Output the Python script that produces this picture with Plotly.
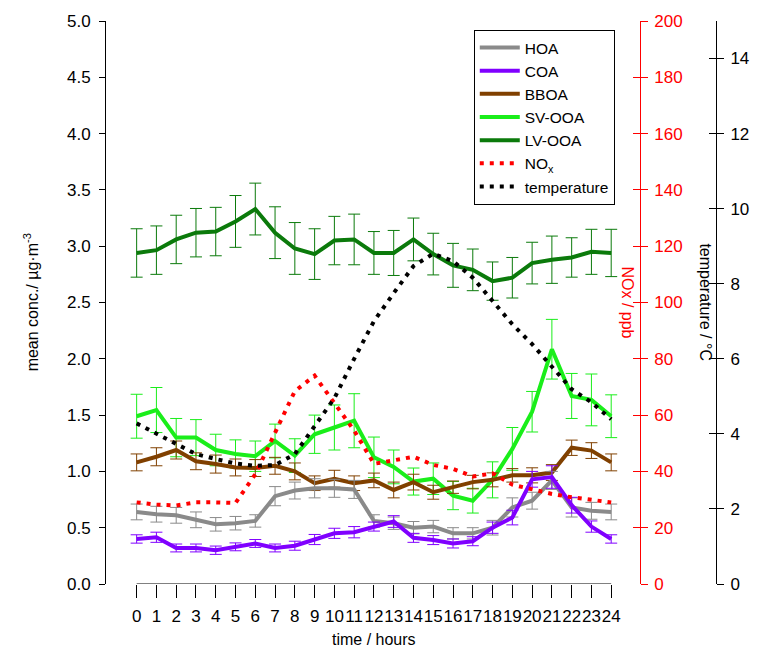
import plotly.graph_objects as go

hours = list(range(25))
x_ticklabels = [str(h) for h in hours]

HOA = [0.64, 0.62, 0.61, 0.57, 0.53, 0.54, 0.56, 0.78, 0.83, 0.85, 0.85, 0.84, 0.56,
       0.54, 0.50, 0.51, 0.45, 0.45, 0.50, 0.68, 0.74, 0.92, 0.68, 0.65, 0.64]
HOA_err = [0.07, 0.07, 0.07, 0.07, 0.06, 0.06, 0.055, 0.085, 0.075, 0.085, 0.08, 0.08, 0.055,
           0.055, 0.055, 0.055, 0.05, 0.05, 0.065, 0.085, 0.075, 0.08, 0.085, 0.075, 0.07]

COA = [0.40, 0.415, 0.32, 0.32, 0.30, 0.33, 0.36, 0.32, 0.34, 0.395, 0.45, 0.46, 0.51,
       0.555, 0.41, 0.39, 0.36, 0.38, 0.50, 0.59, 0.93, 0.95, 0.70, 0.51, 0.40]
COA_err = [0.037, 0.045, 0.035, 0.035, 0.037, 0.035, 0.035, 0.035, 0.04, 0.045, 0.045, 0.05, 0.04,
           0.052, 0.04, 0.04, 0.04, 0.04, 0.05, 0.065, 0.07, 0.1, 0.07, 0.05, 0.037]

BBOA = [1.08, 1.13, 1.19, 1.09, 1.065, 1.035, 1.03, 1.05, 1.00, 0.895, 0.935, 0.895, 0.92,
        0.835, 0.905, 0.815, 0.86, 0.905, 0.925, 0.965, 0.965, 0.99, 1.21, 1.185, 1.08]
BBOA_err = [0.075, 0.08, 0.08, 0.075, 0.08, 0.075, 0.075, 0.075, 0.075, 0.065, 0.075, 0.065, 0.065,
            0.07, 0.07, 0.062, 0.055, 0.06, 0.062, 0.06, 0.067, 0.07, 0.068, 0.07, 0.075]

SV_OOA = [1.49, 1.545, 1.30, 1.30, 1.19, 1.155, 1.135, 1.27, 1.14, 1.33, 1.39, 1.45, 1.125,
          1.04, 0.91, 0.935, 0.785, 0.74, 0.925, 1.20, 1.53, 2.085, 1.67, 1.635, 1.49]
SV_OOA_err = [0.195, 0.2, 0.17, 0.16, 0.14, 0.125, 0.135, 0.15, 0.15, 0.17, 0.2, 0.24, 0.18,
              0.15, 0.12, 0.14, 0.125, 0.11, 0.16, 0.19, 0.18, 0.265, 0.2, 0.23, 0.19]

LV_OOA = [2.94, 2.965, 3.06, 3.12, 3.13, 3.22, 3.33, 3.12, 2.98, 2.93, 3.05, 3.06, 2.94,
          2.94, 3.06, 2.93, 2.83, 2.79, 2.69, 2.72, 2.85, 2.88, 2.90, 2.95, 2.94]
LV_OOA_err = [0.215, 0.215, 0.215, 0.215, 0.215, 0.23, 0.23, 0.23, 0.23, 0.225, 0.215, 0.225, 0.19,
              0.2, 0.19, 0.185, 0.195, 0.185, 0.17, 0.18, 0.185, 0.21, 0.175, 0.2, 0.21]

NOx = [29.0, 28.2, 27.9, 29.0, 29.0, 28.8, 39.0, 53.5, 68.5, 74.0, 64.0, 54.5, 42.7,
       44.1, 45.2, 42.3, 40.9, 38.2, 39.3, 35.3, 33.5, 32.0, 30.8, 30.0, 29.0]

temperature = [4.28, 4.0, 3.73, 3.46, 3.33, 3.21, 3.15, 3.17, 3.46, 4.2, 4.95, 6.0, 7.0,
               7.75, 8.47, 8.8, 8.6, 8.16, 7.54, 6.92, 6.39, 5.77, 5.19, 4.84, 4.39]

conc_ticks = [i * 0.5 for i in range(11)]
nox_ticks = list(range(0, 201, 20))
temp_ticks = list(range(0, 15, 2))

FONT = "Liberation Sans, Arial, sans-serif"
FS = 17

series = [
    ("LV-OOA", LV_OOA, LV_OOA_err, "#0b7a0b", 5),
    ("SV-OOA", SV_OOA, SV_OOA_err, "#1aee1a", 4),
    ("BBOA", BBOA, BBOA_err, "#804000", 3),
    ("HOA", HOA, HOA_err, "#8a8a8a", 1),
    ("COA", COA, COA_err, "#8000ff", 2),
]

fig = go.Figure()
for name, vals, err, col, rank in series:
    fig.add_trace(go.Scatter(
        x=hours, y=vals, name=name, mode="lines",
        line=dict(color=col, width=4),
        error_y=dict(type="data", array=err, visible=True, color=col, thickness=1, width=6),
        legendrank=rank,
    ))

fig.add_trace(go.Scatter(
    x=hours, y=NOx, name="NO<sub>x</sub>", mode="lines", yaxis="y2",
    line=dict(color="#ff0000", width=4, dash="4px,6px"), legendrank=6,
))
fig.add_trace(go.Scatter(
    x=hours, y=temperature, name="temperature", mode="lines", yaxis="y3",
    line=dict(color="#000000", width=4, dash="4px,6px"), legendrank=7,
))
# helper traces so the inner-tick overlay axes are drawn
fig.add_trace(go.Scatter(x=[None], y=[None], yaxis="y4", showlegend=False, hoverinfo="skip"))
fig.add_trace(go.Scatter(x=[None], y=[None], yaxis="y5", showlegend=False, hoverinfo="skip"))

xdom_end = 540 / 617

fig.update_layout(
    width=761, height=650,
    margin=dict(l=106, r=38, t=20, b=66, pad=0),
    paper_bgcolor="white", plot_bgcolor="white",
    font=dict(family=FONT, size=FS, color="black"),
    showlegend=True,
    legend=dict(
        x=(478 - 106) / 617, y=(584 - 29) / 564, xanchor="left", yanchor="top",
        bgcolor="white", bordercolor="black", borderwidth=1,
        font=dict(family=FONT, size=15.5, color="black"),
        tracegroupgap=0, itemwidth=40,
    ),
    xaxis=dict(
        domain=[0, xdom_end], range=[-1.55, 25.45],
        tickmode="array", tickvals=hours, ticktext=x_ticklabels, tickangle=0,
        ticks="outside", ticklen=13, tickcolor="black", tickwidth=1,
        ticklabelstandoff=4,
        showline=False, showgrid=False, zeroline=False,
        tickfont=dict(size=FS, color="black"),
    ),
    yaxis=dict(
        range=[0, 5], tickmode="array", tickvals=conc_ticks,
        ticktext=[f"{v:.1f}" for v in conc_ticks],
        ticks="outside", ticklen=6, tickcolor="black", ticklabelstandoff=5,
        showline=True, linecolor="black", linewidth=1,
        showgrid=False, zeroline=False, tickfont=dict(size=FS, color="black"),
    ),
    yaxis2=dict(
        overlaying="y", anchor="x", side="right", range=[0, 200],
        tickmode="array", tickvals=nox_ticks,
        ticks="outside", ticklen=7, tickcolor="#ff0000", ticklabelstandoff=3,
        showline=True, linecolor="#ff0000", linewidth=1,
        showgrid=False, zeroline=False, tickfont=dict(size=FS, color="#ff0000"),
    ),
    yaxis4=dict(
        overlaying="y", anchor="x", side="right", range=[0, 200],
        tickmode="array", tickvals=nox_ticks,
        ticks="inside", ticklen=7, tickcolor="#ff0000",
        showticklabels=False, showline=False, showgrid=False, zeroline=False,
    ),
    yaxis3=dict(
        overlaying="y", anchor="free", position=1.0, side="right", range=[0, 15],
        tickmode="array", tickvals=temp_ticks,
        ticks="outside", ticklen=7, tickcolor="black", ticklabelstandoff=3,
        showline=True, linecolor="black", linewidth=1,
        showgrid=False, zeroline=False, tickfont=dict(size=FS, color="black"),
    ),
    yaxis5=dict(
        overlaying="y", anchor="free", position=1.0, side="right", range=[0, 15],
        tickmode="array", tickvals=temp_ticks,
        ticks="inside", ticklen=7, tickcolor="black",
        showticklabels=False, showline=False, showgrid=False, zeroline=False,
    ),
)

fig.add_shape(type="line", xref="x", yref="y", x0=hours[0], x1=hours[-1], y0=0, y1=0,
              line=dict(color="black", width=1))

fig.add_annotation(text="time / hours", xref="x", yref="paper", x=12, y=(584 - 640) / 564,
                   showarrow=False, xanchor="center", yanchor="middle",
                   font=dict(size=16, color="black"))
fig.add_annotation(text="mean conc./ µg·m<sup>-3</sup>", xref="paper", yref="paper",
                   x=(30 - 106) / 617, y=0.5, textangle=-90, showarrow=False,
                   xanchor="center", yanchor="middle", font=dict(size=16, color="black"))
fig.add_annotation(text="NOx / ppb", xref="paper", yref="paper",
                   x=(633 - 106) / 617, y=0.5, textangle=90, showarrow=False,
                   xanchor="center", yanchor="middle", font=dict(size=16, color="#ff0000"))
fig.add_annotation(text="temperature / °C", xref="paper", yref="paper",
                   x=(712 - 106) / 617, y=0.5, textangle=90, showarrow=False,
                   xanchor="center", yanchor="middle", font=dict(size=16, color="black"))

fig.write_html("out.html")
